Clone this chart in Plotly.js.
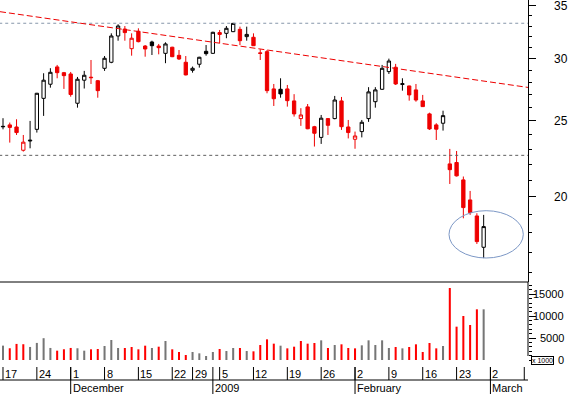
<!DOCTYPE html>
<html><head><meta charset="utf-8">
<script src="https://cdn.plot.ly/plotly-3.0.1.min.js"></script>
<style>html,body{margin:0;padding:0;background:#fff}#chart{width:573px;height:394px}</style>
</head><body><div id="chart"></div>
<script>
// ---------------- data ----------------
const dates = [
 '2008-11-17','2008-11-18','2008-11-19','2008-11-20','2008-11-21',
 '2008-11-24','2008-11-25','2008-11-26','2008-11-27','2008-11-28',
 '2008-12-01','2008-12-02','2008-12-03','2008-12-04','2008-12-05',
 '2008-12-08','2008-12-09','2008-12-10','2008-12-11','2008-12-12',
 '2008-12-15','2008-12-16','2008-12-17','2008-12-18','2008-12-19',
 '2008-12-22','2008-12-23','2008-12-24',
 '2008-12-29','2008-12-30','2008-12-31','2009-01-02',
 '2009-01-05','2009-01-06','2009-01-07','2009-01-08','2009-01-09',
 '2009-01-12','2009-01-13','2009-01-14','2009-01-15','2009-01-16',
 '2009-01-19','2009-01-20','2009-01-21','2009-01-22','2009-01-23',
 '2009-01-26','2009-01-27','2009-01-28','2009-01-29','2009-01-30',
 '2009-02-02','2009-02-03','2009-02-04','2009-02-05','2009-02-06',
 '2009-02-09','2009-02-10','2009-02-11','2009-02-12','2009-02-13',
 '2009-02-16','2009-02-17','2009-02-18','2009-02-19','2009-02-20',
 '2009-02-23','2009-02-24','2009-02-25','2009-02-26','2009-02-27'];
const openP = [24.55,24.69,24.54,22.92,23.55,24.37,26.69,27.82,29.27,28.78,
 28.67,26.31,28.15,28.40,28.11,29.15,29.67,32.05,32.71,30.88,
 32.50,31.12,31.49,31.12,30.46,31.01,30.28,29.67,28.98,29.50,
 30.64,30.46,32.37,32.30,32.46,32.68,31.99,31.93,30.50,30.61,
 27.44,27.41,27.44,26.49,25.15,26.03,24.56,23.80,25.15,25.15,
 26.49,24.54,23.67,24.21,25.15,26.43,27.41,28.87,29.24,27.80,
 27.68,27.36,26.49,25.50,24.69,24.81,22.02,22.11,21.01,19.81,
 18.90,17.24];
const highP = [25.18,24.86,25.10,23.97,24.98,27.12,28.73,29.16,29.44,28.84,
 28.84,28.42,28.93,29.87,28.17,30.22,32.30,33.17,33.00,32.30,
 32.78,31.21,31.61,31.31,31.46,31.05,30.76,30.22,29.30,30.15,
 31.21,32.45,32.62,33.00,33.30,32.94,32.94,32.30,30.82,30.76,
 27.84,28.31,27.76,27.02,25.93,26.25,24.62,25.42,25.18,26.88,
 26.80,25.05,24.21,25.05,27.58,27.58,29.44,29.99,29.53,28.31,
 27.70,27.84,26.96,25.59,24.81,25.74,23.01,22.87,21.22,20.34,
 19.05,18.96];
const lowP = [24.37,23.44,23.97,22.83,23.05,24.14,25.35,27.54,28.31,27.44,
 26.82,25.97,27.47,27.84,26.74,28.93,29.59,31.61,31.61,30.25,
 31.46,30.16,30.31,30.37,29.59,30.12,29.87,28.55,28.78,29.21,
 30.25,30.42,31.37,31.84,32.42,31.21,31.61,31.12,29.87,27.09,
 26.10,26.74,26.05,25.30,24.62,24.38,23.17,23.35,23.97,25.10,
 24.33,23.73,23.02,23.80,24.91,25.97,27.36,28.67,27.76,27.30,
 26.51,26.43,26.02,24.33,23.62,24.28,20.76,21.22,18.77,18.96,
 17.41,16.70];
const closeP = [24.58,24.51,24.14,23.47,23.60,27.09,28.15,28.81,28.78,28.53,
 26.99,28.23,28.56,28.36,27.30,30.02,32.05,33.00,32.37,31.84,
 31.52,30.85,31.15,30.97,31.31,30.16,29.96,28.59,29.15,30.11,
 30.43,32.40,32.20,32.78,33.26,31.61,32.20,31.15,30.46,27.30,
 26.66,27.04,26.51,25.50,25.42,24.41,24.09,25.18,24.66,26.56,
 24.56,24.14,23.90,24.88,27.20,27.36,29.15,29.78,27.84,27.86,
 26.96,26.56,26.05,24.40,24.38,25.37,21.65,21.26,19.37,19.09,
 17.53,18.32];
const volume = [3280,2680,3670,3600,2980,3900,4980,2750,2130,2450,
 2750,2680,2130,2440,2510,3200,4570,2740,2740,2970,
 2440,3270,2740,3040,4340,2440,1830,1140,1830,1520,
 910,1830,2510,2050,2740,2740,2050,1980,3420,4720,
 3730,3270,2660,3040,4340,3730,3880,4490,2740,3420,
 3580,2740,2660,3350,4490,3420,4490,2740,2970,2660,
 2970,3580,1830,3880,2660,3200,16440,7610,10050,7990,
 11570,11570];
const supportLevels = [33.27, 22.58];
const trendX = [-0.443, 77.55];
const trendY = [34.42, 27.56];
const priceTicks = [20, 25, 30, 35];
const priceMinorTicks = [16,17,18,19,20,21,22,23,24,25,26,27,28,29,30,31,32,33,34,35];
const volumeTicks = [0, 5000, 10000, 15000];
const volumeMinorTicks = [1000,2000,3000,4000,6000,7000,8000,9000,11000,12000,13000,14000,16000,17000];
const dayTicks = ['2008-11-17','2008-11-24','2008-12-01','2008-12-08','2008-12-15','2008-12-22',
 '2008-12-29','2009-01-05','2009-01-12','2009-01-19','2009-01-26','2009-02-02','2009-02-09',
 '2009-02-16','2009-02-23','2009-03-02','2009-03-09'];
const dayLabels = ['17','24','1','8','15','22','29','5','12','19','26','2','9','16','23','2',''];
const monthStarts = ['2008-12-01','2009-01-02','2009-02-02','2009-03-02'];
const monthLabels = ['December','2009','February','March'];

// ---------------- helpers ----------------
const FONT = 'Liberation Sans, Arial, sans-serif';
const XMIN = -0.443, XMAX = 77.55;
const RED = '#ee0000', VRED = '#ff0000', VGRAY = '#767676';
function tradingIndex(d) {
  const k = dates.indexOf(d);
  if (k >= 0) return k;
  let t = new Date(dates[dates.length - 1] + 'T12:00:00Z');
  const end = new Date(d + 'T12:00:00Z');
  let n = dates.length - 1;
  while (t < end) { t = new Date(t.getTime() + 86400000); const wd = t.getUTCDay(); if (wd !== 0 && wd !== 6) n++; }
  return n;
}
const px = i => (i - XMIN) / (XMAX - XMIN);
const idx = dates.map((d, i) => i);
const up = idx.map(i => i === 0 ? closeP[0] >= openP[0] : closeP[i] >= closeP[i - 1]);

function pick(arr, flag) { return idx.filter(i => up[i] === flag).map(i => arr[i]); }
function candle(flag, color) {
  return {
    type: 'candlestick', xaxis: 'x', yaxis: 'y',
    x: pick(idx, flag), open: pick(openP, flag), high: pick(highP, flag),
    low: pick(lowP, flag), close: pick(closeP, flag),
    increasing: {line: {color: color, width: 1}, fillcolor: '#ffffff'},
    decreasing: {line: {color: color, width: 1}, fillcolor: color},
    whiskerwidth: 0, hoverinfo: 'skip', showlegend: false
  };
}
const traces = [];
supportLevels.forEach((lv, k) => traces.push({
  type: 'scatter', mode: 'lines', x: [XMIN - 1, XMAX + 1], y: [lv, lv], xaxis: 'x', yaxis: 'y',
  line: {color: k === 0 ? '#8797ab' : '#5e5e5e', width: 1, dash: '3px,3px'},
  hoverinfo: 'skip', showlegend: false
}));
traces.push({
  type: 'scatter', mode: 'lines', x: trendX, y: trendY, xaxis: 'x', yaxis: 'y',
  line: {color: RED, width: 1, dash: '6px,3px'}, hoverinfo: 'skip', showlegend: false
});
traces.push(candle(true, '#000000'));
traces.push(candle(false, RED));
traces.push({
  type: 'bar', x: idx, y: volume, xaxis: 'x', yaxis: 'y2', width: 0.3,
  marker: {color: idx.map(i => up[i] ? VGRAY : VRED), line: {width: 0}},
  hoverinfo: 'skip', showlegend: false
});

// ---------------- layout ----------------
const H = 367; // plot area height
const py = p => (H - p) / H; // pixel row -> paper y
const shapes = [];
const annotations = [];
const line = {color: '#000', width: 1};
shapes.push({type: 'line', xref: 'paper', yref: 'paper', x0: 0, x1: 1, y0: py(282), y1: py(282), line});
shapes.push({type: 'line', xref: 'paper', yref: 'paper', x0: 0, x1: 1, y0: py(380), y1: py(380), line});
shapes.push({type: 'line', xref: 'paper', yref: 'paper', x0: 1, x1: 1, y0: py(282), y1: py(356), line});
dayTicks.forEach((d, k) => {
  const i = tradingIndex(d);
  shapes.push({type: 'line', xref: 'paper', yref: 'paper', x0: px(i), x1: px(i), y0: py(367), y1: py(380), line});
  if (dayLabels[k]) annotations.push({xref: 'x', yref: 'paper', x: i, y: py(373.5), xanchor: 'left', yanchor: 'middle',
    xshift: 0, text: dayLabels[k], showarrow: false, font: {family: FONT, size: 11, color: '#000'}});
});
monthStarts.forEach((d, k) => {
  const i = tradingIndex(d);
  shapes.push({type: 'line', xref: 'paper', yref: 'paper', x0: px(i), x1: px(i), y0: py(367), y1: py(394), line});
  annotations.push({xref: 'x', yref: 'paper', x: i, y: py(388), xanchor: 'left', yanchor: 'middle',
    text: monthLabels[k], showarrow: false, font: {family: FONT, size: 11, color: '#000'}});
});
priceTicks.forEach(v => annotations.push({xref: 'paper', yref: 'y', x: 570 / 528, y: Math.log10(v), xanchor: 'right', yanchor: 'middle',
  text: String(v), showarrow: false, font: {family: FONT, size: 12, color: '#000'}}));
volumeTicks.forEach(v => annotations.push({xref: 'paper', yref: 'y2', x: 566 / 528, y: v, xanchor: 'right', yanchor: 'middle',
  text: String(v), showarrow: false, font: {family: FONT, size: 11, color: '#000'}}));
annotations.push({xref: 'paper', yref: 'y2', x: 542.5 / 528, y: 0, xanchor: 'center', yanchor: 'middle',
  text: 'x 1000', showarrow: false, font: {family: FONT, size: 7, color: '#000'},
  bordercolor: '#000', borderwidth: 1, borderpad: 0, bgcolor: '#fff'});
// highlight ellipse
shapes.push({type: 'circle', xref: 'paper', yref: 'paper', x0: 449 / 528, x1: 523.3 / 528,
  y0: py(258), y1: py(210.7), line: {color: '#7d98c6', width: 1}});

const layout = {
  width: 573, height: 394,
  margin: {l: 0, r: 45, t: 0, b: 27, pad: 0},
  paper_bgcolor: '#fff', plot_bgcolor: '#fff',
  showlegend: false, boxgap: 0.3,
  font: {family: FONT, size: 11, color: '#000'},
  xaxis: {domain: [0, 1], range: [XMIN, XMAX], anchor: 'y2', showticklabels: false, showline: false,
    showgrid: false, zeroline: false, ticks: '', rangeslider: {visible: false}, fixedrange: true},
  yaxis: {domain: [py(282), 1], type: 'log', range: [Math.log10(15.57), Math.log10(35.62)], side: 'right', anchor: 'x',
    showline: true, linecolor: '#000', linewidth: 1, ticks: 'outside', ticklen: 7, tickcolor: '#000', tickwidth: 1,
    tickmode: 'array', tickvals: priceTicks, showticklabels: false,
    minor: {tickmode: 'array', tickvals: priceMinorTicks, ticks: 'outside', ticklen: 3, tickcolor: '#000', tickwidth: 1, showgrid: false},
    showgrid: false, zeroline: false, fixedrange: true},
  yaxis2: {domain: [0, py(282)], range: [-1598, 17807], side: 'right', anchor: 'x',
    showline: false, ticks: 'outside', ticklen: 7, tickcolor: '#000', tickwidth: 1,
    tickmode: 'array', tickvals: volumeTicks, showticklabels: false,
    minor: {tickmode: 'array', tickvals: volumeMinorTicks, ticks: 'outside', ticklen: 3, tickcolor: '#000', tickwidth: 1, showgrid: false},
    showgrid: false, zeroline: false, fixedrange: true},
  shapes, annotations
};
Plotly.newPlot('chart', traces, layout, {staticPlot: true, displayModeBar: false});
</script></body></html>
